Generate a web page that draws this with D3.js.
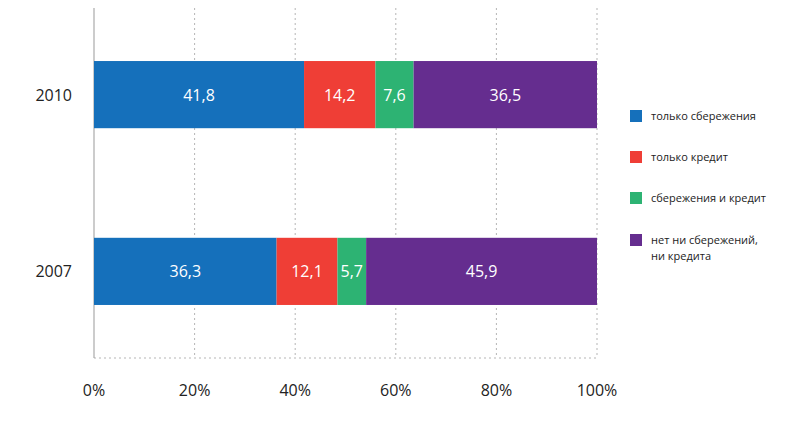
<!DOCTYPE html>
<html><head><meta charset="utf-8">
<script src="https://cdn.jsdelivr.net/npm/d3@7"></script>
<style>body{margin:0;background:#fff}text{font-family:"Open Sans",sans-serif}</style>
</head><body><svg id="c" width="812" height="422"></svg>
<script>
const years = ["2010","2007"];
const seriesNames = ["только сбережения","только кредит","сбережения и кредит","нет ни сбережений, ни кредита"];
const savingsOnly = [41.8,36.3];
const creditOnly = [14.2,12.1];
const both = [7.6,5.7];
const neither = [36.5,45.9];
const tickLabels = ["0%","20%","40%","60%","80%","100%"];
const colors = ["#1570bb","#ef3e36","#2db373","#652d8f"];

const svg = d3.select("#c");
const x = d3.scaleLinear().domain([0,1]).range([94,597]);
const y = d3.scaleBand().domain(years).range([8,358]).paddingInner(0.62).paddingOuter(0.3);
const rows = years.map((yr,i)=>({year:yr, s0:savingsOnly[i], s1:creditOnly[i], s2:both[i], s3:neither[i]}));
const keys=["s0","s1","s2","s3"];
const stack = d3.stack().keys(keys).offset(d3.stackOffsetExpand)(rows);

// grid
svg.append("g").selectAll("line").data([0.2,0.4,0.6,0.8,1]).join("line")
 .attr("x1",d=>x(d)).attr("x2",d=>x(d)).attr("y1",8).attr("y2",358)
 .attr("stroke","#b5b5b5").attr("stroke-dasharray","2,3");
svg.append("line").attr("x1",94).attr("x2",597).attr("y1",358).attr("y2",358)
 .attr("stroke","#b5b5b5").attr("stroke-dasharray","2,3");
svg.append("line").attr("x1",94).attr("x2",94).attr("y1",8).attr("y2",358).attr("stroke","#999");

stack.forEach((layer,k)=>{
  const g=svg.append("g");
  g.selectAll("rect").data(layer).join("rect")
   .attr("x",d=>x(d[0])).attr("width",d=>x(d[1])-x(d[0]))
   .attr("y",d=>y(d.data.year)).attr("height",y.bandwidth()).attr("fill",colors[k]);
  g.selectAll("text").data(layer).join("text")
   .attr("x",d=>(x(d[0])+x(d[1]))/2).attr("y",d=>y(d.data.year)+y.bandwidth()/2+6)
   .attr("text-anchor","middle").attr("fill","#fff").attr("font-size",16)
   .text(d=>String(d.data[keys[k]]).replace(".",","));
});

svg.append("g").selectAll("text").data(years).join("text")
 .attr("x",72).attr("y",d=>y(d)+y.bandwidth()/2+6).attr("text-anchor","end")
 .attr("font-size",16).attr("fill","#222").text(d=>d);

svg.append("g").selectAll("text").data(tickLabels).join("text")
 .attr("x",(d,i)=>x(i/5)).attr("y",396).attr("text-anchor","middle")
 .attr("font-size",16).attr("fill","#222").text(d=>d);

const lg=svg.append("g");
const ly=[116,157,198,240];
seriesNames.forEach((n,i)=>{
  lg.append("rect").attr("x",630).attr("y",ly[i]-6).attr("width",12).attr("height",12).attr("fill",colors[i]);
  const t=lg.append("text").attr("x",651).attr("y",ly[i]+4).attr("font-size",11).attr("fill","#222");
  if(i===3){
    t.append("tspan").attr("x",651).text("нет ни сбережений,");
    t.append("tspan").attr("x",651).attr("dy",16).text("ни кредита");
  } else t.text(n);
});
</script></body></html>
